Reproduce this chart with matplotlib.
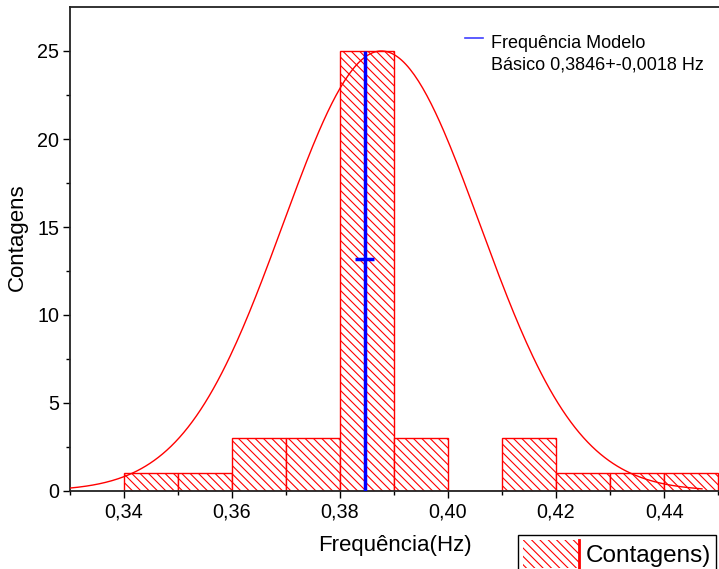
import numpy as np
import matplotlib
matplotlib.use("Agg")
from matplotlib import pyplot as plt
from matplotlib.patches import Rectangle, Patch
from matplotlib.lines import Line2D
from matplotlib.legend_handler import HandlerPatch

# histogram of measured frequencies (bin left edges, width 0.01 Hz)
bin_left = [0.34, 0.35, 0.36, 0.37, 0.38, 0.39, 0.40, 0.41, 0.42, 0.43, 0.44]
counts = [1, 1, 3, 3, 25, 3, 0, 3, 1, 1, 1]
bin_width = 0.01

# gaussian fit drawn over the histogram
fit_amp = 25.0
fit_center = 0.3877
fit_sigma = 0.0182
fit_range = (0.33, 0.447)

# model frequency with uncertainty
model_freq = 0.3846
model_err = 0.0018
model_top = 25
err_y = 13.2

xticks = [0.34, 0.36, 0.38, 0.40, 0.42, 0.44]
xticks_minor = [0.33, 0.35, 0.37, 0.39, 0.41, 0.43, 0.45]
xtick_labels = ["0,34", "0,36", "0,38", "0,40", "0,42", "0,44"]
yticks = [0, 5, 10, 15, 20, 25]
yticks_minor = [2.5, 7.5, 12.5, 17.5, 22.5]

plt.rcParams['font.family'] = ['Liberation Sans', 'DejaVu Sans']
plt.rcParams['hatch.linewidth'] = 0.8
HATCH = '\\\\\\\\'


class HatchHandler(HandlerPatch):
    def create_artists(self, legend, orig_handle, xdescent, ydescent,
                       width, height, fontsize, trans):
        r = Rectangle((-xdescent, -ydescent), width, height, facecolor='white',
                      edgecolor='red', hatch=HATCH, linewidth=0, transform=trans)
        l = Line2D([width - xdescent] * 2, [-ydescent, height - ydescent],
                   color='red', lw=2, transform=trans)
        return [r, l]


fig = plt.figure(figsize=(7.19, 5.69), dpi=100)
ax = fig.add_axes([69.5 / 719, 78 / 569, (729 - 69.5) / 719, 484 / 569])

ax.bar(bin_left, counts, width=bin_width, align='edge', facecolor='white',
       edgecolor='red', hatch=HATCH, linewidth=1, zorder=2)

xs = np.linspace(fit_range[0], fit_range[1], 300)
ys = fit_amp * np.exp(-(xs - fit_center) ** 2 / (2 * fit_sigma ** 2))
ax.plot(xs, ys, color='red', lw=1, zorder=3)

ax.vlines(model_freq, 0, model_top, color='blue', lw=2.5, zorder=4)
ax.errorbar(model_freq, err_y, xerr=model_err, fmt='none', ecolor='blue',
            elinewidth=2.5, capsize=0, zorder=4)

ax.set_xlim(0.33, 0.452)
ax.set_ylim(0, 27.5)
ax.set_xticks(xticks)
ax.set_xticklabels(xtick_labels)
ax.set_xticks(xticks_minor, minor=True)
ax.set_yticks(yticks)
ax.set_yticks(yticks_minor, minor=True)
ax.tick_params(which='major', direction='out', length=5, width=1,
               labelsize=14.2, pad=2.5)
ax.tick_params(axis='x', which='major', pad=3.2)
ax.tick_params(which='minor', direction='out', length=3, width=1)
for s in ax.spines.values():
    s.set_linewidth(1.3)
    s.set_color('#222222')

ax.set_xlabel('Frequência(Hz)', fontsize=16)
ax.xaxis.set_label_coords(0.4936, -0.091)
ax.set_ylabel('Contagens', fontsize=16)
ax.yaxis.set_label_coords(-0.063, 0.525)

# top legend for the model frequency
fig.add_artist(Line2D([465 / 719, 483 / 719], [1 - 37.5 / 569] * 2,
                      color='#4040ff', lw=1.2, transform=fig.transFigure))
fig.text(491 / 719, 1 - 48.5 / 569, 'Frequência Modelo', fontsize=13,
         va='baseline', ha='left')
fig.text(491 / 719, 1 - 70 / 569, 'Básico 0,3846+-0,0018 Hz', fontsize=13,
         va='baseline', ha='left')

# bottom legend for the histogram
handle = Patch(facecolor='white', edgecolor='red', hatch=HATCH)
leg = fig.legend(handles=[handle], labels=['Contagens)'],
                 handler_map={Patch: HatchHandler()},
                 loc='upper left', bbox_to_anchor=(518 / 719, 1 - 535 / 569),
                 borderaxespad=0, fontsize=17.5, handlelength=2.3,
                 handleheight=1.4, handletextpad=0.3, borderpad=0.2,
                 fancybox=False, edgecolor='black', framealpha=1)
leg.get_frame().set_linewidth(1)

fig.savefig('out.png', dpi=100)
